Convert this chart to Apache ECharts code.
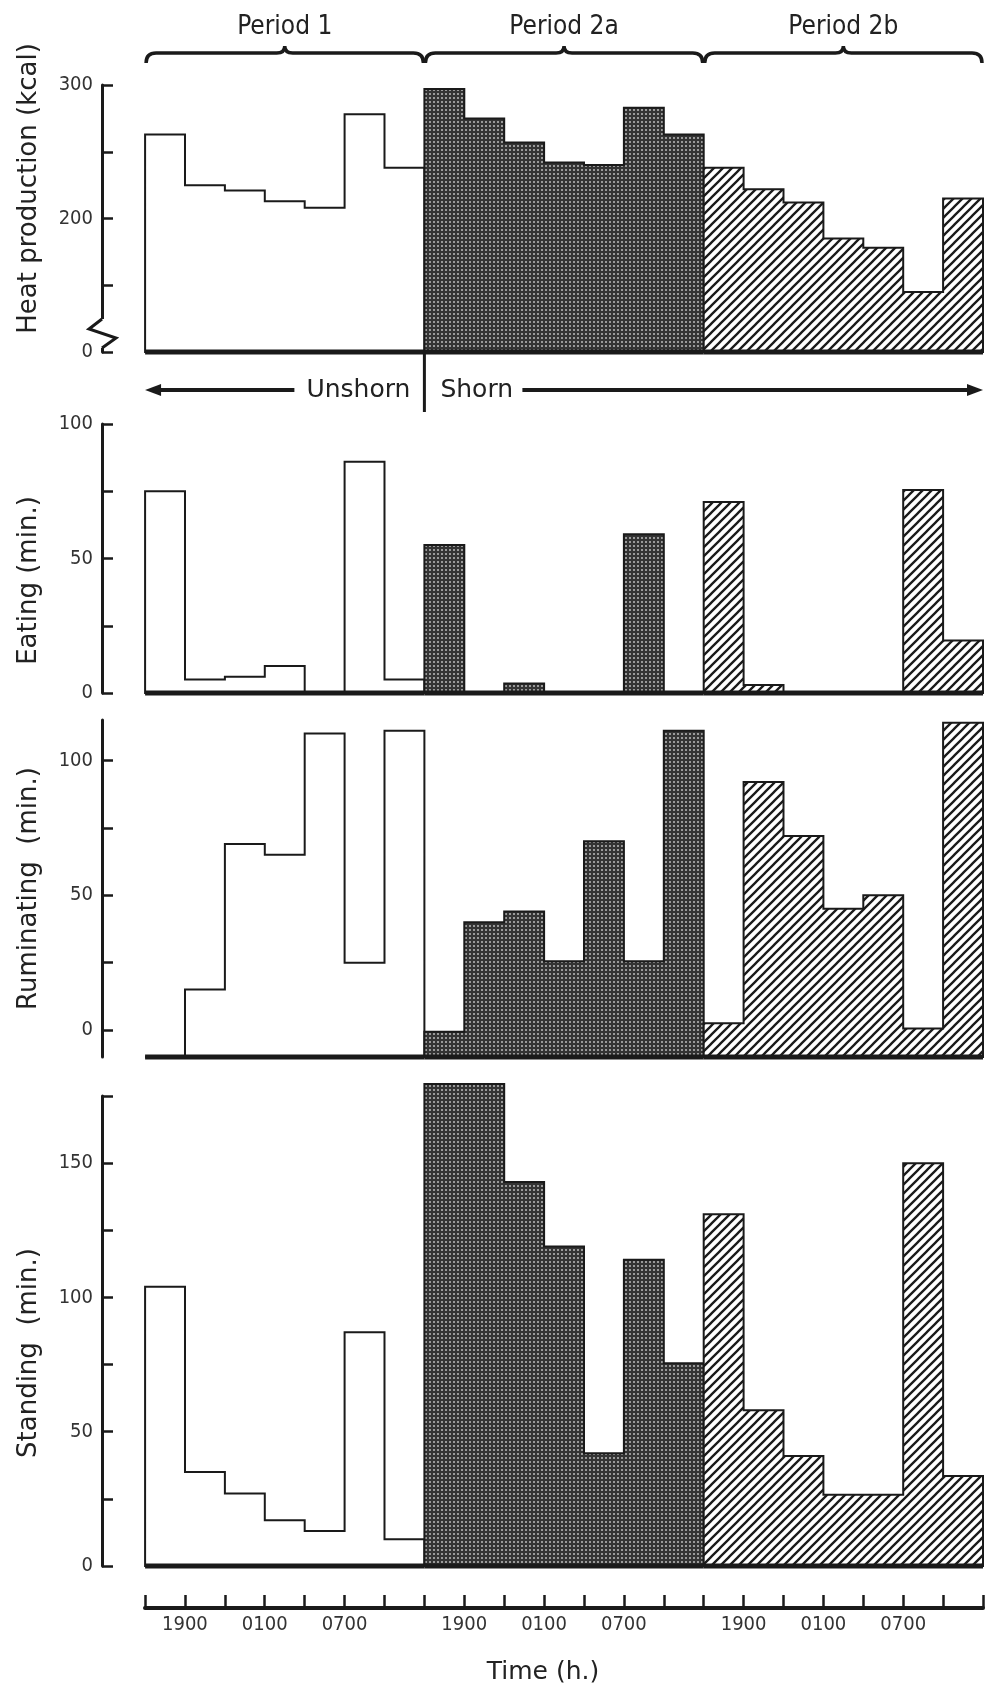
<!DOCTYPE html>
<html>
<head>
<meta charset="utf-8">
<title>Sheep heat production and behaviour</title>
<script src="https://cdn.jsdelivr.net/npm/echarts@6.0.0/dist/echarts.min.js"></script>
<style>
  html, body { margin: 0; padding: 0; background: #fff; }
  #main { width: 985px; height: 1692px; }
</style>
</head>
<body>
<div id="main"></div>
<script>
// 21 three-hour bins, 7 per period
var periods = ['Period 1', 'Period 2a', 'Period 2b'];
var heatKcal = [263, 225, 221, 213, 208, 278, 238,
                297, 275, 257, 242, 240, 283, 263,
                238, 222, 212, 185, 178, 145, 215];
var eatingMin = [75, 5, 6, 10, 0, 86, 5,
                 55, 0, 3.5, 0, 0, 59, 0,
                 71, 3, 0, 0, 0, 75.5, 19.5];
var ruminatingMin = [null, 15, 69, 65, 110, 25, 111,
                     -0.6, 40, 44, 25.5, 70, 25.5, 111,
                     2.5, 92, 72, 45, 50, 0.6, 114];
var standingMin = [104, 35, 27, 17, 13, 87, 10,
                   179.5, 179.5, 143, 119, 42, 114, 75.5,
                   131, 58, 41, 26.5, 26.5, 150, 33.5];
var timeTickPos = [1, 3, 5, 8, 10, 12, 15, 17, 19];
var timeLabels = ['1900', '0100', '0700', '1900', '0100', '0700', '1900', '0100', '0700'];
var heatTickLabels = {100: '0', 200: '200', 300: '300'};

var condensed = '"Liberation Sans Narrow", "DejaVu Sans Condensed", sans-serif';
var wide = '"DejaVu Sans", Lato, sans-serif';
var ink = '#1a1a1a';

function crossPattern() {
    var c = document.createElement('canvas');
    c.width = 4; c.height = 4;
    var g = c.getContext('2d');
    g.fillStyle = '#343434';
    g.fillRect(0, 0, 4, 4);
    g.fillStyle = '#9a9a9a';
    g.fillRect(1, 1, 2, 2);
    return c;
}
function hatchPattern() {
    var s = 9;
    var c = document.createElement('canvas');
    c.width = s; c.height = s;
    var g = c.getContext('2d');
    g.fillStyle = '#fff';
    g.fillRect(0, 0, s, s);
    g.strokeStyle = '#1a1a1a';
    g.lineWidth = 2.3;
    g.beginPath();
    g.moveTo(-1, s + 1); g.lineTo(s + 1, -1);
    g.moveTo(-2, 2); g.lineTo(2, -2);
    g.moveTo(s - 2, s + 2); g.lineTo(s + 2, s - 2);
    g.stroke();
    return c;
}
var fills = ['#fff', {image: crossPattern(), repeat: 'repeat'}, {image: hatchPattern(), repeat: 'repeat'}];

function periodRows(values) {
    return periods.map(function (name, p) {
        return [p].concat(values.slice(p * 7, p * 7 + 7));
    });
}

// one stepped outline per period, filled with its pattern, over a heavy base line
function stepSeries(idx, values, base) {
    return {
        type: 'custom',
        xAxisIndex: idx,
        yAxisIndex: idx,
        clip: false,
        silent: true,
        data: periodRows(values),
        renderItem: function (params, api) {
            var p = api.value(0);
            var x0 = p * 7;
            var pts = [api.coord([x0, base])];
            for (var i = 0; i < 7; i++) {
                var v = api.value(i + 1);
                if (v == null || isNaN(v)) v = base;
                pts.push(api.coord([x0 + i, v]));
                pts.push(api.coord([x0 + i + 1, v]));
            }
            var end = api.coord([x0 + 7, base]);
            pts.push(end);
            return {
                type: 'group',
                children: [{
                    type: 'polygon',
                    shape: {points: pts},
                    style: {fill: fills[p], stroke: ink, lineWidth: 2, lineJoin: 'miter'}
                }, {
                    type: 'line',
                    shape: {x1: pts[0][0], y1: pts[0][1], x2: end[0], y2: end[1]},
                    style: {stroke: ink, lineWidth: 5}
                }]
            };
        }
    };
}

// braces, period titles, Unshorn/Shorn arrows and the axis break mark
var decorSeries = {
    type: 'custom',
    xAxisIndex: 0,
    yAxisIndex: 0,
    clip: false,
    silent: true,
    z: 5,
    data: [[0]],
    renderItem: function (params, api) {
        var kids = [];
        var top = api.coord([0, 300])[1];
        var baseY = api.coord([0, 100])[1];
        var by = top - 32;
        periods.forEach(function (name, p) {
            var a = api.coord([p * 7, 300])[0] + 1;
            var b = api.coord([p * 7 + 7, 300])[0] - 1;
            var m = (a + b) / 2;
            kids.push({
                type: 'path',
                shape: {pathData: 'M' + a + ' ' + (by + 10) + ' Q' + a + ' ' + by + ' ' + (a + 10) + ' ' + by +
                    ' L' + (m - 8) + ' ' + by + ' Q' + m + ' ' + by + ' ' + m + ' ' + (by - 7) +
                    ' Q' + m + ' ' + by + ' ' + (m + 8) + ' ' + by +
                    ' L' + (b - 10) + ' ' + by + ' Q' + b + ' ' + by + ' ' + b + ' ' + (by + 10)},
                style: {fill: null, stroke: ink, lineWidth: 3.5}
            });
            kids.push({
                type: 'text',
                x: m, y: top - 58,
                style: {text: name, font: '26px ' + condensed, fill: '#222', align: 'center', verticalAlign: 'middle'}
            });
        });
        var ay = baseY + 38;
        var xl = api.coord([0, 100])[0];
        var xs = api.coord([7, 100])[0];
        var xr = api.coord([21, 100])[0];
        kids.push({type: 'line', shape: {x1: xs, y1: baseY, x2: xs, y2: baseY + 60}, style: {stroke: ink, lineWidth: 3}});
        kids.push({type: 'line', shape: {x1: xl + 12, y1: ay, x2: xs - 130, y2: ay}, style: {stroke: ink, lineWidth: 4}});
        kids.push({type: 'polygon', shape: {points: [[xl, ay], [xl + 16, ay - 6], [xl + 16, ay + 6]]}, style: {fill: ink}});
        kids.push({type: 'text', x: xs - 14, y: ay, style: {text: 'Unshorn', font: '25px ' + wide, fill: '#222', align: 'right', verticalAlign: 'middle'}});
        kids.push({type: 'text', x: xs + 16, y: ay, style: {text: 'Shorn', font: '25px ' + wide, fill: '#222', align: 'left', verticalAlign: 'middle'}});
        kids.push({type: 'line', shape: {x1: xs + 98, y1: ay, x2: xr - 12, y2: ay}, style: {stroke: ink, lineWidth: 4}});
        kids.push({type: 'polygon', shape: {points: [[xr, ay], [xr - 16, ay - 6], [xr - 16, ay + 6]]}, style: {fill: ink}});
        // zigzag break on the heat axis
        var ax = api.coord([-1.08, 150])[0];
        kids.push({type: 'rect', shape: {x: ax - 3, y: baseY - 33, width: 6, height: 29}, style: {fill: '#fff'}});
        kids.push({
            type: 'polyline',
            shape: {points: [[ax, baseY - 33], [ax - 13, baseY - 23], [ax + 14, baseY - 14], [ax, baseY - 4]]},
            style: {stroke: ink, lineWidth: 3, fill: null}
        });
        return {type: 'group', children: kids};
    }
};

function yAxisBase(idx, name, min, max, pad) {
    return {
        type: 'value',
        gridIndex: idx,
        min: min,
        max: max,
        name: name,
        nameLocation: 'middle',
        nameGap: 60,
        nameRotate: 90,
        nameTextStyle: {fontFamily: wide, fontSize: 26, color: '#222', padding: pad},
        axisLine: {show: true, onZero: false, lineStyle: {color: ink, width: 3}},
        axisTick: {show: true, inside: true, length: 11, lineStyle: {color: ink, width: 2.5}},
        axisLabel: {fontFamily: condensed, fontSize: 20, color: '#333', margin: 9},
        splitLine: {show: false}
    };
}

var yHeat = yAxisBase(0, 'Heat production (kcal)', 100, 300, [0, 0, 0, 60]);
yHeat.interval = 50;
yHeat.axisLabel.formatter = function (v) { return heatTickLabels[v] || ''; };

var yEat = yAxisBase(1, 'Eating (min.)', 0, 100, [0, 44, 0, 0]);
yEat.interval = 25;
yEat.axisLabel.formatter = function (v) { return v % 50 === 0 ? String(v) : ''; };

var yRum = yAxisBase(2, 'Ruminating  (min.)', -10, 115, [0, 0, 0, 0]);
yRum.axisTick.customValues = [0, 25, 50, 75, 100];
yRum.axisLabel.customValues = [0, 50, 100];

var yStand = yAxisBase(3, 'Standing  (min.)', 0, 175, [0, 44, 0, 0]);
yStand.interval = 25;
yStand.axisLabel.formatter = function (v) { return v % 50 === 0 ? String(v) : ''; };

var grids = [
    {left: 102, right: 2, top: 85, height: 267},
    {left: 102, right: 2, top: 424, height: 269},
    {left: 102, right: 2, top: 720, height: 337},
    {left: 102, right: 2, top: 1096, height: 470},
    {left: 145, right: 2, top: 1590, height: 18}
];

var xAxes = [0, 1, 2, 3].map(function (i) {
    return {type: 'value', gridIndex: i, min: -1.08, max: 21, show: false};
});
xAxes.push({
    type: 'value',
    gridIndex: 4,
    min: 0,
    max: 21,
    interval: 1,
    name: 'Time (h.)',
    nameLocation: 'middle',
    nameGap: 52,
    nameTextStyle: {fontFamily: wide, fontSize: 25, color: '#222', padding: [0, 42, 0, 0]},
    axisLine: {show: true, onZero: false, lineStyle: {color: ink, width: 4}},
    axisTick: {show: true, inside: true, length: 13, lineStyle: {color: ink, width: 2.5}},
    axisLabel: {
        customValues: timeTickPos,
        fontFamily: condensed,
        fontSize: 20,
        color: '#333',
        margin: 7,
        formatter: function (v) { return timeLabels[timeTickPos.indexOf(v)]; }
    },
    splitLine: {show: false}
});

var chart = echarts.init(document.getElementById('main'));
chart.setOption({
    animation: false,
    backgroundColor: '#fff',
    grid: grids,
    xAxis: xAxes,
    yAxis: [yHeat, yEat, yRum, yStand, {type: 'value', gridIndex: 4, show: false, min: 0, max: 1}],
    series: [
        stepSeries(0, heatKcal, 100),
        stepSeries(1, eatingMin, 0),
        stepSeries(2, ruminatingMin, -10),
        stepSeries(3, standingMin, 0),
        decorSeries
    ]
});
</script>
</body>
</html>
